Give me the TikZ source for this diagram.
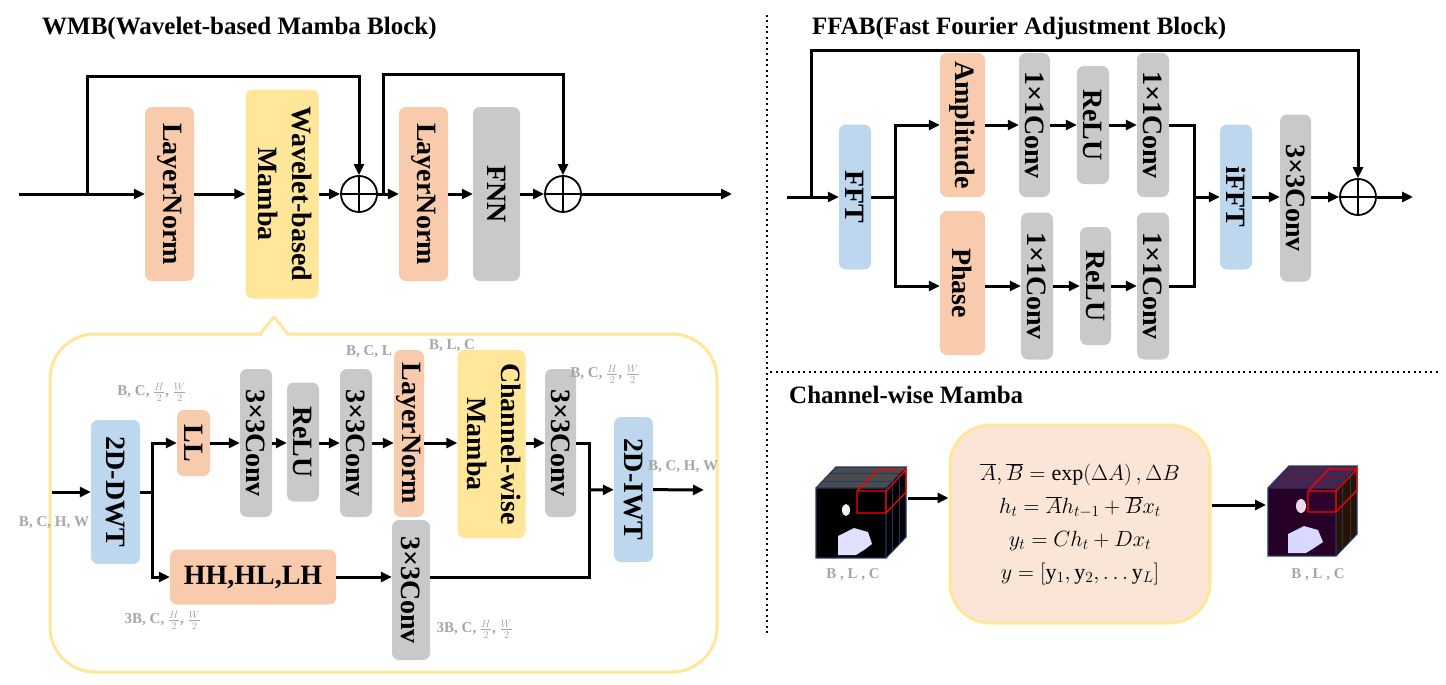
\RequirePackage{fix-cm}
\documentclass[tikz,border=0pt]{standalone}
\usepackage{graphicx}
\usepackage{fontspec}
\setmainfont{Liberation Serif}
\usetikzlibrary{arrows.meta}

\definecolor{salmon}{HTML}{F8CBAD}
\definecolor{mambay}{HTML}{FFE699}
\definecolor{wblue}{HTML}{BDD7EE}
\definecolor{cgray}{HTML}{C9C9C9}
\definecolor{peach}{HTML}{FBE5D6}
\definecolor{dimgray}{HTML}{A6A6A6}
\definecolor{navy}{HTML}{1F3864}

\newcommand{\vtxt}[1]{\rotatebox{-90}{#1}}

\tikzset{
	blk/.style 2 args={rounded corners=7pt, minimum width=#1pt, minimum height=#2pt,
		inner sep=0pt, font=\fontsize{28}{34}\selectfont\bfseries},
	wire/.style={line width=3pt},
	arr/.style={wire, -{Triangle[length=11pt, width=10pt]}},
	oplus/.style={circle, draw, line width=1.8pt, minimum size=36pt, inner sep=0pt,
		path picture={\draw[line width=1.4pt]
			(path picture bounding box.north) -- (path picture bounding box.south)
			(path picture bounding box.west) -- (path picture bounding box.east);}},
	dimlbl/.style={text=dimgray, inner sep=0pt, font=\fontsize{15}{17}\selectfont\bfseries},
	ttl/.style={anchor=west, inner sep=0pt, font=\fontsize{25}{30}\selectfont\bfseries},
	sep/.style={line width=2pt, dash pattern=on 2pt off 3.5pt}
}

\begin{document}
\begin{tikzpicture}[x=1pt, y=-1pt]
	\useasboundingbox (0,0) rectangle (1446,685);

	% WMB
	\node[ttl] (wmbt) at (42,28) {WMB(Wavelet-based Mamba Block)};

	\node[blk={49}{174}, fill=salmon] (ln1) at (169.5,194) {\vtxt{LayerNorm}};
	\node[blk={73}{209}, fill=mambay] (wbm) at (282,194)
		{\vtxt{\begin{tabular}{@{}c@{}}Wavelet-based\\Mamba\end{tabular}}};
	\node[oplus] (c1) at (359,194) {};
	\node[blk={49}{174}, fill=salmon] (ln2) at (423.5,194) {\vtxt{LayerNorm}};
	\node[blk={47}{174}, fill=cgray] (fnn) at (496.5,194) {\vtxt{FNN}};
	\node[oplus] (c2) at (563,194) {};

	\coordinate (in1) at (19,194);
	\coordinate (out1) at (732,194);
	\coordinate (s1) at (87,194);
	\coordinate (t1) at (87,77);
	\coordinate (s2) at (383,194);
	\coordinate (t2) at (383,75);

	\draw[arr] (in1) -- (ln1);
	\draw[arr] (ln1) -- (wbm);
	\draw[arr] (wbm) -- (c1);
	\draw[arr] (c1) -- (ln2);
	\draw[arr] (ln2) -- (fnn);
	\draw[arr] (fnn) -- (c2);
	\draw[arr] (c2) -- (out1);
	\draw[arr] (s1) -- (t1) -| (c1.north);
	\draw[arr] (s2) -- (t2) -| (c2.north);

	% wavelet-based mamba, opened
	\draw[mambay, line width=3pt, rounded corners=45pt] (50,334) rectangle (717,672);
	\fill[white] (262,331) rectangle (286,337);
	\draw[mambay, line width=3pt, line join=round] (260,334) -- (274,317) -- (288,334);

	\node[blk={49}{144}, fill=wblue] (dwt) at (115.5,492) {\vtxt{2D-DWT}};
	\node[blk={33}{66}, fill=salmon] (ll) at (193.5,443) {\vtxt{LL}};
	\node[blk={32}{148}, fill=cgray] (cv1) at (256,443) {\vtxt{3×3Conv}};
	\node[blk={32}{119}, fill=cgray] (relu1) at (303,442) {\vtxt{ReLU}};
	\node[blk={32}{148}, fill=cgray] (cv2) at (356,443) {\vtxt{3×3Conv}};
	\node[blk={30}{167}, fill=salmon] (lni) at (409,433.5) {\vtxt{LayerNorm}};
	\node[blk={57}{188}, fill=mambay] (cwm) at (491.5,444)
		{\vtxt{\begin{tabular}{@{}c@{}}Channel-wise\\Mamba\end{tabular}}};
	\node[blk={31}{148}, fill=cgray] (cv3) at (560.5,443) {\vtxt{3×3Conv}};
	\node[blk={39}{145}, fill=wblue] (iwt) at (633.5,489.5) {\vtxt{2D-IWT}};
	\node[blk={166}{55}, fill=salmon] (hh) at (253,577) {HH,HL,LH};
	\node[blk={38}{140}, fill=cgray] (cv4) at (411,590) {\vtxt{3×3Conv}};

	\coordinate (in2) at (52,492);
	\coordinate (b1) at (152,492);
	\coordinate (m1) at (589,490);
	\coordinate (out2) at (704,490);

	\draw[arr] (in2) -- (dwt);
	\draw[wire] (dwt) -- (b1);
	\draw[arr] (b1) |- (ll);
	\draw[arr] (b1) |- (hh);
	\draw[arr] (ll) -- (cv1);
	\draw[arr] (cv1) -- (relu1.west |- cv1);
	\draw[arr] (relu1.east |- cv1) -- (cv2);
	\draw[arr] (cv2) -- (cv2 -| lni.west);
	\draw[arr] (cv2 -| lni.east) -- (cv2 -| cwm.west);
	\draw[arr] (cv2 -| cwm.east) -- (cv3);
	\draw[wire] (cv3) -| (m1);
	\draw[arr] (hh) -- (hh -| cv4.west);
	\draw[wire] (hh -| cv4.east) -| (m1);
	\draw[arr] (m1) -- (iwt);
	\draw[arr] (iwt) -- (out2);

	\node[dimlbl] (d1) at (54,523) {B, C, H, W};
	\node[dimlbl] (d2) at (152,392) {B, C, $\frac{H}{2}$, $\frac{W}{2}$};
	\node[dimlbl] (d3) at (369,352) {B, C, L};
	\node[dimlbl] (d4) at (452,346) {B, L, C};
	\node[dimlbl] (d5) at (605,374) {B, C, $\frac{H}{2}$, $\frac{W}{2}$};
	\node[dimlbl] (d6) at (683,467) {B, C, H, W};
	\node[dimlbl] (d7) at (163,620) {3B, C, $\frac{H}{2}$, $\frac{W}{2}$};
	\node[dimlbl] (d8) at (475,629) {3B, C, $\frac{H}{2}$, $\frac{W}{2}$};

	% separators
	\draw[sep] (767,15) -- (767,635);
	\draw[sep] (770,372) -- (1440,372);

	% FFAB
	\node[ttl] (ffabt) at (812,28) {FFAB(Fast Fourier Adjustment Block)};

	\node[blk={32}{145}, fill=wblue] (fft) at (855,197) {\vtxt{FFT}};
	\node[blk={45}{144}, fill=salmon] (amp) at (962.5,125) {\vtxt{Amplitude}};
	\node[blk={31}{144}, fill=cgray] (a1) at (1034.5,125) {\vtxt{1×1Conv}};
	\node[blk={32}{118}, fill=cgray] (ra) at (1093,125) {\vtxt{ReLU}};
	\node[blk={32}{144}, fill=cgray] (a2) at (1153,125) {\vtxt{1×1Conv}};
	\node[blk={45}{144}, fill=salmon] (pha) at (962.5,283) {\vtxt{Phase}};
	\node[blk={32}{147}, fill=cgray] (p1) at (1037,286) {\vtxt{1×1Conv}};
	\node[blk={31}{118}, fill=cgray] (rp) at (1095.5,286) {\vtxt{ReLU}};
	\node[blk={32}{147}, fill=cgray] (p2) at (1153,286) {\vtxt{1×1Conv}};
	\node[blk={32}{145}, fill=wblue] (ifft) at (1236,197) {\vtxt{iFFT}};
	\node[blk={31}{167}, fill=cgray] (cv5) at (1295.5,198) {\vtxt{3×3Conv}};
	\node[oplus] (c3) at (1358,197) {};

	\coordinate (in3) at (787,197);
	\coordinate (s3) at (811,197);
	\coordinate (t3) at (811,51);
	\coordinate (b2) at (895,197);
	\coordinate (m2) at (1194,197);
	\coordinate (out3) at (1413,197);

	\draw[arr] (in3) -- (fft);
	\draw[arr] (s3) -- (t3) -| (c3.north);
	\draw[wire] (fft) -- (b2);
	\draw[arr] (b2) |- (amp);
	\draw[arr] (b2) |- (pha.west |- p1);
	\draw[arr] (amp) -- (a1);
	\draw[arr] (a1) -- (ra);
	\draw[arr] (ra) -- (a2);
	\draw[arr] (pha.east |- p1) -- (p1);
	\draw[arr] (p1) -- (rp);
	\draw[arr] (rp) -- (p2);
	\draw[wire] (a2) -| (m2);
	\draw[wire] (p2) -| (m2);
	\draw[arr] (m2) -- (ifft);
	\draw[arr] (ifft) -- (cv5.west |- ifft);
	\draw[arr] (cv5.east |- ifft) -- (c3);
	\draw[arr] (c3) -- (out3);

	% Channel-wise Mamba
	\node[ttl] (cwmt) at (789,395) {Channel-wise Mamba};

	\node[draw=mambay, fill=peach, line width=3pt, rounded corners=40pt,
		minimum width=260pt, minimum height=198pt, align=center,
		font=\fontsize{22}{33}\selectfont] (eqs) at (1080,524)
		{$\overline{A},\overline{B}=\exp(\Delta A)\,,\Delta B$\\
		$h_t=\overline{A}h_{t-1}+\overline{B}x_t$\\
		$y_t=Ch_t+Dx_t$\\
		$y=[\mathrm{y}_1,\mathrm{y}_2,\ldots\mathrm{y}_L]$};

	\begin{scope}[shift={(816,558)}]
		\fill[black] (0,0) rectangle (70,-70);
		\fill[white!80!blue!60] (22,-3) -- (22,-22) -- (38,-30) -- (52,-26) -- (56,-14) -- (48,-8) -- (40,-3) -- cycle;
		\fill[white!90!gray] (30,-48) ellipse (4 and 6);
		\fill[gray!60!black] (0,-70) -- (70,-70) -- (90,-91) -- (20,-91) -- cycle;
		\fill[black] (70,0) -- (90,-21) -- (90,-91) -- (70,-70) -- cycle;
		\foreach \t in {0.33,0.67}
			\draw[navy, line width=1pt] (20*\t,-70-21*\t) -- (70+20*\t,-70-21*\t)
				(70+20*\t,-21*\t) -- (70+20*\t,-70-21*\t);
		\draw[navy, line width=1.2pt] (0,0) rectangle (70,-70)
			(0,-70) -- (20,-91) -- (90,-91) -- (70,-70) (90,-91) -- (90,-21) -- (70,0);
		\draw[red, line width=1.3pt] (41,-45) rectangle (70,-67)
			(41,-67) -- (61,-88) -- (90,-88) -- (70,-67) (90,-88) -- (90,-66) -- (70,-45);
	\end{scope}
	\node[dimlbl] (d9) at (853,575) {B , L , C};

	\begin{scope}[shift={(1268,556)}]
		\fill[black!70!violet] (0,0) rectangle (68,-68);
		\fill[white!75!blue!60] (20,-3) -- (20,-22) -- (36,-30) -- (50,-26) -- (55,-14) -- (46,-8) -- (38,-3) -- cycle;
		\fill[white!85!violet] (33,-50) ellipse (5 and 7);
		\fill[violet!35!black] (40,-44) rectangle (68,-65);
		\fill[gray!45!violet!60!black] (0,-68) -- (68,-68) -- (89,-90) -- (21,-90) -- cycle;
		\fill[black!85!orange] (68,0) -- (89,-22) -- (89,-90) -- (68,-68) -- cycle;
		\foreach \t in {0.33,0.67}
			\draw[navy, line width=1pt] (21*\t,-68-22*\t) -- (68+21*\t,-68-22*\t)
				(68+21*\t,-22*\t) -- (68+21*\t,-68-22*\t);
		\draw[navy, line width=1.2pt] (0,0) rectangle (68,-68)
			(0,-68) -- (21,-90) -- (89,-90) -- (68,-68) (89,-90) -- (89,-22) -- (68,0);
		\draw[red, line width=1.3pt] (40,-44) rectangle (68,-65)
			(40,-65) -- (61,-87) -- (89,-87) -- (68,-65) (89,-87) -- (89,-66) -- (68,-44);
	\end{scope}
	\node[dimlbl] (d10) at (1318,575) {B , L , C};

	\coordinate (k1) at (908,498);
	\coordinate (k2) at (1266,505);
	\draw[arr] (k1) -- (k1 -| eqs.west);
	\draw[arr] (k2 -| eqs.east) -- (k2);
\end{tikzpicture}
\end{document}
